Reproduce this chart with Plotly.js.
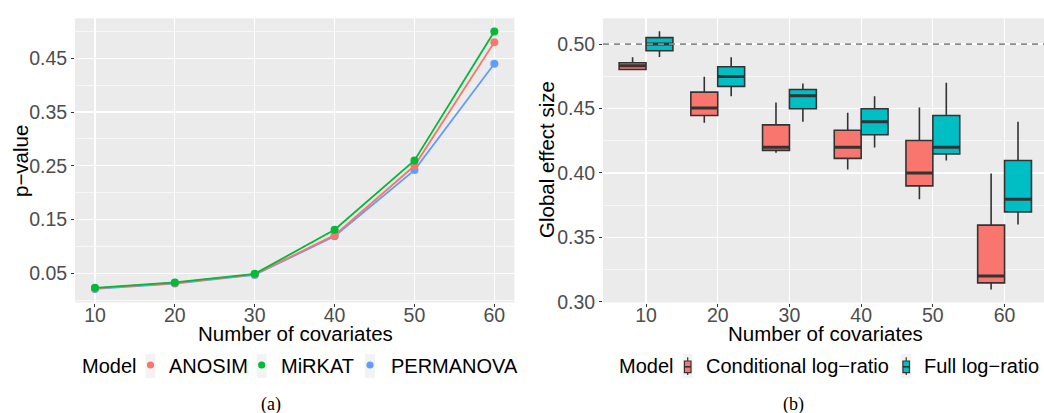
<!DOCTYPE html>
<html>
<head>
<meta charset="utf-8">
<script src="https://cdn.plot.ly/plotly-3.0.1.min.js"></script>
<style>html,body{margin:0;padding:0;background:#fff;}#chart{width:1044px;height:413px;}</style>
</head>
<body>
<div id="chart"></div>
<script>
// ---------- data ----------
const covariates = [10, 20, 30, 40, 50, 60];
const anosim    = [0.022, 0.032, 0.048, 0.121, 0.250, 0.480];
const mirkat    = [0.023, 0.033, 0.049, 0.131, 0.260, 0.500];
const permanova = [0.021, 0.031, 0.047, 0.119, 0.242, 0.440];
const lineModels = ['ANOSIM', 'MiRKAT', 'PERMANOVA'];

const covariateLabels = ['10', '20', '30', '40', '50', '60'];
const condLower  = [0.4803, 0.4390, 0.4156, 0.4027, 0.3797, 0.3096];
const condQ1     = [0.4803, 0.4446, 0.4175, 0.4113, 0.3900, 0.3147];
const condMedian = [0.4832, 0.4505, 0.4200, 0.4200, 0.4000, 0.3200];
const condQ3     = [0.4855, 0.4627, 0.4373, 0.4332, 0.4252, 0.3595];
const condUpper  = [0.4897, 0.4746, 0.4547, 0.4467, 0.4508, 0.3996];

const fullLower  = [0.4900, 0.4596, 0.4397, 0.4198, 0.4097, 0.3600];
const fullQ1     = [0.4948, 0.4672, 0.4498, 0.4296, 0.4148, 0.3698];
const fullMedian = [0.5000, 0.4749, 0.4599, 0.4397, 0.4200, 0.3797];
const fullQ3     = [0.5050, 0.4824, 0.4648, 0.4498, 0.4446, 0.4097];
const fullUpper  = [0.5099, 0.4897, 0.4695, 0.4596, 0.4700, 0.4397];
const boxModels = ['Conditional log\u2212ratio', 'Full log\u2212ratio'];

const referenceLine = 0.5;

// ---------- styling ----------
const W = 1044, H = 413;
const FONT = 'Liberation Sans, Arial, Helvetica, sans-serif';
const SERIF = 'Liberation Serif, Times New Roman, serif';
const px = v => v / W;
const py = v => 1 - v / H;
const lineColors = ['#F8766D', '#00BA38', '#619CFF'];
const boxColors = ['#F8766D', '#00BFC4'];
const DARK = '#333333';

function lineTrace(y, color, name) {
  return {type: 'scatter', mode: 'lines+markers', x: covariates, y: y, name: name,
    xaxis: 'x', yaxis: 'y', showlegend: false, cliponaxis: false,
    line: {color: color, width: 1.8}, marker: {color: color, size: 8}};
}
function boxTrace(name, color, lo, q1, med, q3, hi) {
  return {type: 'box', name: name, x: covariateLabels, lowerfence: lo, q1: q1,
    median: med, q3: q3, upperfence: hi, xaxis: 'x2', yaxis: 'y2', showlegend: false,
    fillcolor: color, line: {color: DARK, width: 1.6}, whiskerwidth: 0,
    boxpoints: false, hoverinfo: 'y', offsetgroup: name};
}
// thicker median bar (ggplot draws the median twice as thick): a zero-height box in the same slot
function medianTrace(name, med) {
  return {type: 'box', name: name + ' median', x: covariateLabels, lowerfence: med, q1: med,
    median: med, q3: med, upperfence: med, xaxis: 'x2', yaxis: 'y2', showlegend: false,
    fillcolor: 'rgba(0,0,0,0)', line: {color: DARK, width: 3}, whiskerwidth: 0,
    boxpoints: false, hoverinfo: 'skip', offsetgroup: name};
}

const data = [
  lineTrace(permanova, lineColors[2], lineModels[2]),
  lineTrace(anosim, lineColors[0], lineModels[0]),
  lineTrace(mirkat, lineColors[1], lineModels[1]),
  boxTrace(boxModels[0], boxColors[0], condLower, condQ1, condMedian, condQ3, condUpper),
  boxTrace(boxModels[1], boxColors[1], fullLower, fullQ1, fullMedian, fullQ3, fullUpper),
  medianTrace(boxModels[0], condMedian),
  medianTrace(boxModels[1], fullMedian)
];

const tickFont = {family: FONT, size: 19.5, color: '#4D4D4D'};
const yDomain = [py(302.5), py(18.3)];
const axisCommon = {showline: false, zeroline: false, ticks: 'outside', ticklen: 3,
  tickcolor: DARK, tickwidth: 1, tickfont: tickFont, gridcolor: '#FFFFFF', gridwidth: 1.3,
  automargin: false};

// ---------- legends (drawn as paper-positioned keys + labels) ----------
const legendFont = {family: FONT, size: 20, color: '#000'};
const legendY = 366;
const shapes = [{type: 'line', xref: 'x2 domain', x0: 0, x1: 1, yref: 'y2', y0: referenceLine, y1: referenceLine,
  line: {color: '#8C8C8C', width: 1.6, dash: '6px,5px'}, layer: 'above'}];
const annotations = [];
function label(text, xLeft, font) {
  annotations.push({text: text, xref: 'paper', yref: 'paper', x: px(xLeft), y: py(legendY),
    xanchor: 'left', yanchor: 'middle', showarrow: false, font: font || legendFont});
}
function keyBg(cx) {
  shapes.push({type: 'rect', xref: 'paper', yref: 'paper', x0: px(cx - 5), x1: px(cx + 5),
    y0: py(legendY + 12), y1: py(legendY - 12), fillcolor: '#F3F3F3', line: {width: 0}});
}
const dotKeyX = [150.5, 261.7, 370];
const dotTextX = [166.7, 279, 389];
label('Model', 80);
lineModels.forEach((m, i) => {
  keyBg(dotKeyX[i]);
  shapes.push({type: 'circle', xref: 'paper', yref: 'paper', x0: px(dotKeyX[i] - 3.6), x1: px(dotKeyX[i] + 3.6),
    y0: py(legendY - 1 + 3.6), y1: py(legendY - 1 - 3.6), fillcolor: lineColors[i], line: {width: 0}});
  label(m, dotTextX[i]);
});
const boxKeyX = [687.7, 906.2];
const boxTextX = [704, 921.7];
label('Model', 617);
boxModels.forEach((m, i) => {
  const cx = boxKeyX[i];
  keyBg(cx);
  shapes.push({type: 'line', xref: 'paper', yref: 'paper', x0: px(cx), x1: px(cx), y0: py(357.3), y1: py(375),
    line: {color: DARK, width: 1.2}});
  shapes.push({type: 'rect', xref: 'paper', yref: 'paper', x0: px(cx - 3.3), x1: px(cx + 3.3), y0: py(372.7), y1: py(361),
    fillcolor: boxColors[i], line: {color: DARK, width: 1.2}});
  shapes.push({type: 'line', xref: 'paper', yref: 'paper', x0: px(cx - 3.3), x1: px(cx + 3.3), y0: py(366.8), y1: py(366.8),
    line: {color: DARK, width: 1.6}});
  label(m, boxTextX[i]);
});

const titleFont = {family: FONT, size: 20.5, color: '#000'};
annotations.push(
  {text: 'Number of covariates', xref: 'paper', yref: 'paper', x: px(295), y: py(333),
    xanchor: 'center', yanchor: 'middle', showarrow: false, font: titleFont},
  {text: 'Number of covariates', xref: 'paper', yref: 'paper', x: px(825), y: py(333),
    xanchor: 'center', yanchor: 'middle', showarrow: false, font: titleFont},
  {text: 'p\u2212value', xref: 'paper', yref: 'paper', x: px(20), y: py(161),
    xanchor: 'center', yanchor: 'middle', textangle: -90, showarrow: false, font: titleFont},
  {text: 'Global effect size', xref: 'paper', yref: 'paper', x: px(546), y: py(160),
    xanchor: 'center', yanchor: 'middle', textangle: -90, showarrow: false, font: titleFont},
  {text: '(a)', xref: 'paper', yref: 'paper', x: px(271), y: py(404),
    xanchor: 'center', yanchor: 'middle', showarrow: false, font: {family: SERIF, size: 18, color: '#000'}},
  {text: '(b)', xref: 'paper', yref: 'paper', x: px(793), y: py(404),
    xanchor: 'center', yanchor: 'middle', showarrow: false, font: {family: SERIF, size: 18, color: '#000'}}
);

const layout = {
  width: W, height: H,
  margin: {l: 0, r: 0, t: 0, b: 0},
  paper_bgcolor: '#FFFFFF', plot_bgcolor: '#EBEBEB',
  font: {family: FONT, color: '#000'},
  showlegend: false,
  boxmode: 'group', boxgap: 0.25, boxgroupgap: 0,
  xaxis: Object.assign({}, axisCommon, {domain: [px(75), px(514.3)], range: [7.5, 62.5],
    tickvals: covariates, ticktext: covariateLabels, anchor: 'y', ticklabelstandoff: -8}),
  yaxis: Object.assign({}, axisCommon, {domain: yDomain, range: [-0.0043, 0.5244],
    tick0: 0.05, dtick: 0.1, tickformat: '.2f', anchor: 'x',
    minor: {tick0: 0, dtick: 0.1, showgrid: true, gridcolor: '#FFFFFF', gridwidth: 0.6, ticklen: 0}}),
  xaxis2: Object.assign({}, axisCommon, {domain: [px(603), 1], type: 'category',
    categoryorder: 'array', categoryarray: covariateLabels, range: [-0.6, 5.55], anchor: 'y2', ticklabelstandoff: -8}),
  yaxis2: Object.assign({}, axisCommon, {domain: yDomain, range: [0.2995, 0.52],
    tick0: 0.3, dtick: 0.05, tickformat: '.2f', anchor: 'x2',
    minor: {tick0: 0.325, dtick: 0.05, showgrid: true, gridcolor: '#FFFFFF', gridwidth: 0.6, ticklen: 0}}),
  shapes: shapes,
  annotations: annotations
};

Plotly.newPlot('chart', data, layout, {displayModeBar: false, staticPlot: true});
</script>
</body>
</html>
